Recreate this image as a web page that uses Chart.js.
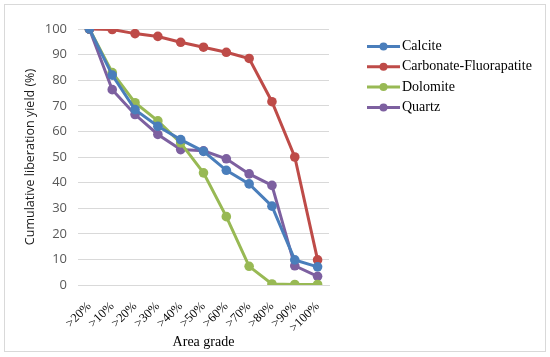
<!DOCTYPE html>
<html>
<head>
<meta charset="utf-8">
<script src="https://cdn.jsdelivr.net/npm/chart.js@4"></script>
<style>
  body { margin: 0; background: #fff; }
  #wrap { position: relative; width: 550px; height: 357px; }
  #frame { position: absolute; left: 4px; top: 4px; width: 540px; height: 346px; border: 1px solid #d9d9d9; pointer-events: none; }
</style>
</head>
<body>
<div id="wrap">
  <canvas id="myChart" width="550" height="357"></canvas>
  <div id="frame"></div>
</div>
<script>
// data
var grades = [">20%", ">10%", ">20%", ">30%", ">40%", ">50%", ">60%", ">70%", ">80%", ">90%", ">100%"];
var calcite = [100, 82, 68.5, 62, 56.8, 52.2, 44.8, 39.5, 30.8, 9.8, 7.1];
var cfa = [100, 99.8, 98.2, 97.1, 94.8, 92.9, 90.9, 88.5, 71.6, 50, 9.8];
var dolomite = [100, 83, 71.2, 64.1, 55.5, 43.8, 26.7, 7.3, 0.4, 0.2, 0.2];
var quartz = [100, 76.3, 66.6, 58.8, 52.9, 52.4, 49.3, 43.4, 38.9, 7.5, 3.4];
var yTicks = [0, 10, 20, 30, 40, 50, 60, 70, 80, 90, 100];

var colors = ["#4A7EBB", "#BE4B48", "#98B954", "#7D60A0"];
var names = ["Calcite", "Carbonate-Fluorapatite", "Dolomite", "Quartz"];
var series = [calcite, cfa, dolomite, quartz];

var sets = [];
for (var i = 0; i < series.length; i++) {
    sets.push({
        label: names[i],
        data: series[i],
        borderColor: colors[i],
        backgroundColor: colors[i],
        borderWidth: 3,
        pointRadius: 4.8,
        pointBorderWidth: 0,
        tension: 0
    });
}

// legend drawn by hand: line with dot, serif text
var sideLegend = {
    id: 'sideLegend',
    afterDraw: function(chart) {
        var ctx = chart.ctx;
        ctx.save();
        ctx.font = "14px 'Liberation Serif'";
        ctx.textBaseline = 'middle';
        for (var i = 0; i < chart.data.datasets.length; i++) {
            var ds = chart.data.datasets[i];
            var y = 46.5 + i * 20.3;
            ctx.strokeStyle = ds.borderColor;
            ctx.lineWidth = 3;
            ctx.beginPath();
            ctx.moveTo(367, y);
            ctx.lineTo(400, y);
            ctx.stroke();
            ctx.fillStyle = ds.borderColor;
            ctx.beginPath();
            ctx.arc(383.5, y, 4, 0, Math.PI * 2);
            ctx.fill();
            ctx.fillStyle = '#000';
            ctx.fillText(ds.label, 402, y);
        }
        ctx.restore();
    }
};

var ctx = document.getElementById("myChart");
var chart = new Chart(ctx, {
    type: 'line',
    data: { labels: grades, datasets: sets },
    plugins: [sideLegend],
    options: {
        responsive: false,
        animation: false,
        layout: { padding: { left: 23, right: 221, top: 29, bottom: 0 } },
        plugins: {
            legend: { display: false },
            tooltip: { enabled: false }
        },
        scales: {
            x: {
                offset: true,
                grid: { display: false },
                border: { display: true, color: '#d9d9d9' },
                ticks: {
                    autoSkip: false,
                    maxRotation: 45,
                    minRotation: 45,
                    color: '#000',
                    padding: 6,
                    font: { family: 'Liberation Serif', size: 12.5 }
                },
                title: {
                    display: true,
                    text: 'Area grade',
                    color: '#000',
                    padding: { top: 4, bottom: 6 },
                    font: { family: 'Liberation Serif', size: 14 }
                },
                afterFit: function(scale) { scale.height = 72; }
            },
            y: {
                min: 0,
                max: 100,
                afterBuildTicks: function(scale) {
                    scale.ticks = yTicks.map(function(v) { return { value: v }; });
                },
                grid: { color: '#d9d9d9', lineWidth: 1, drawTicks: false },
                border: { display: false },
                ticks: {
                    color: '#595959',
                    padding: 11,
                    font: { family: 'Open Sans', size: 13 }
                },
                title: {
                    display: true,
                    text: 'Cumulative liberation yield (%)',
                    color: '#1a1a1a',
                    padding: 0,
                    font: { family: 'Open Sans', size: 12.5 }
                },
                afterFit: function(scale) { scale.width = 55; }
            }
        }
    }
});
</script>
</body>
</html>
